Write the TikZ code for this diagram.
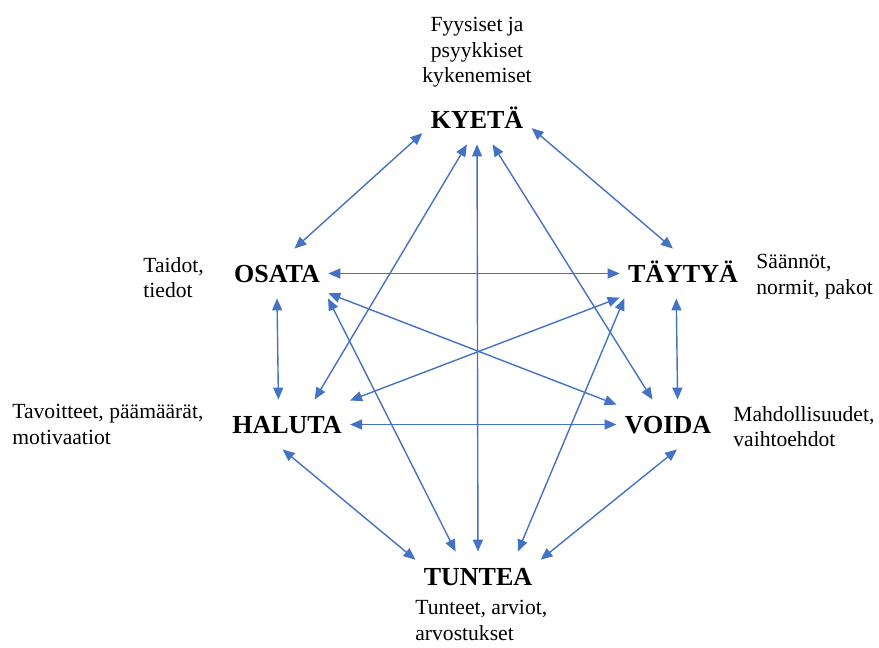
\documentclass[tikz,border=0pt]{standalone}
\usepackage{fontspec}
\setmainfont{Liberation Serif}
\usetikzlibrary{arrows.meta}
\definecolor{linkblue}{RGB}{68,114,196}

\begin{document}
\begin{tikzpicture}[x=0.5pt,y=-0.5pt]
		\tikzstyle{verb}=[inner xsep=4pt,inner ysep=8pt,text height=8.5pt,text depth=0pt,
			anchor=base,font=\fontsize{13}{15}\selectfont\bfseries]
		\tikzstyle{note}=[inner sep=0pt,align=left,anchor=north west,
			font=\fontsize{10.8}{12.8}\selectfont]
		\tikzstyle{link}=[color=linkblue,line width=0.7pt,<->,>={Triangle[length=6pt,width=5pt]}]
		\useasboundingbox (0,0) rectangle (879,648);

		\node[verb] (kyeta) at (477,128) {KYETÄ};
		\node[verb] (osata) at (277,282) {OSATA};
		\node[verb] (taytya) at (683,282) {TÄYTYÄ};
		\node[verb] (haluta) at (287,433) {HALUTA};
		\node[verb] (voida) at (668,433) {VOIDA};
		\node[verb] (tuntea) at (478,585) {TUNTEA};

		\node[note,anchor=north,align=center] (kykyinfo) at (477,17) {Fyysiset ja\\psyykkiset\\kykenemiset};
		\node[note] (osatainfo) at (143,257) {Taidot,\\tiedot};
		\node[note] (taytyainfo) at (756,254) {Säännöt,\\normit, pakot};
		\node[note] (halutainfo) at (12,404) {Tavoitteet, päämäärät,\\motivaatiot};
		\node[note] (voidainfo) at (733,406) {Mahdollisuudet,\\vaihtoehdot};
		\node[note] (tunteainfo) at (415,600) {Tunteet, arviot,\\arvostukset};

		\path[link] (kyeta.194)  edge (osata.55)
				(kyeta.351)  edge (taytya.112)
				(osata)      edge (taytya)
				(osata.south) edge (haluta.109)
				(taytya.255) edge (voida.69)
				(haluta)     edge (voida)
				(haluta.42)  edge (kyeta.248)
				(kyeta)      edge (tuntea)
				(kyeta)      edge (voida)
				(osata)      edge (voida)
				(osata.334)  edge (tuntea.132)
				(taytya)     edge (haluta)
				(taytya.203) edge (tuntea.32)
				(haluta.260) edge (tuntea.165)
				(voida.290)  edge (tuntea.15);
	\end{tikzpicture}
\end{document}
